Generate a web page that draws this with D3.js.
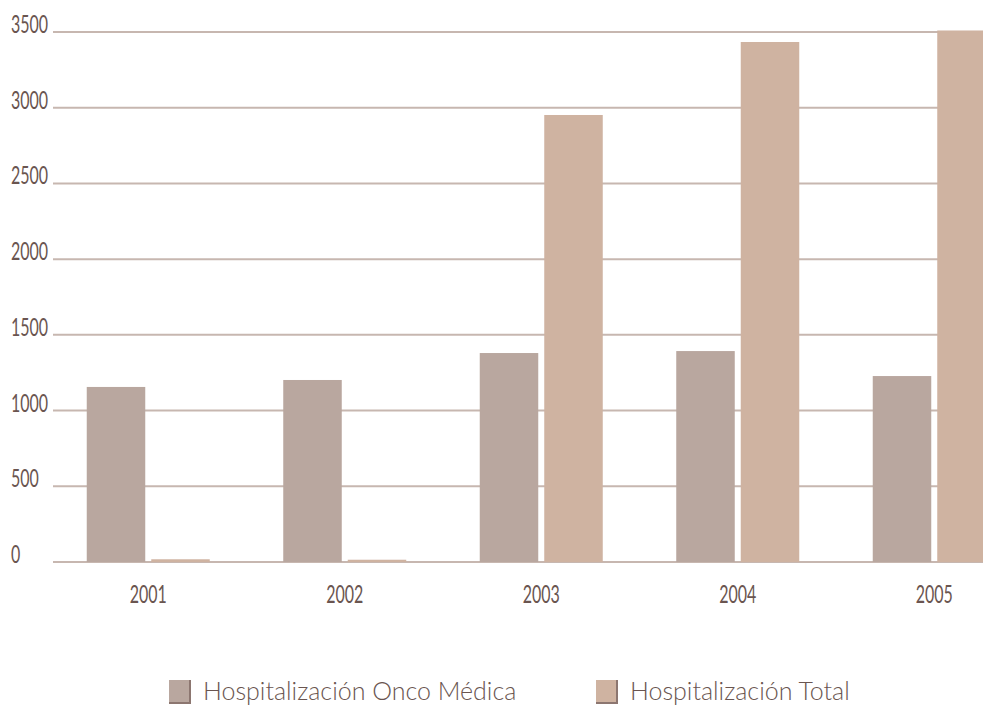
<!DOCTYPE html>
<html>
<head>
<meta charset="utf-8">
<script src="https://cdn.jsdelivr.net/npm/d3@7"></script>
<style>
  html, body { margin: 0; padding: 0; background: #ffffff; }
  svg { display: block; }
</style>
</head>
<body>
<svg id="chart" width="983" height="706"></svg>
<script>
// Hospital stays per year: oncology-medical ward vs. hospital total
const years = ["2001", "2002", "2003", "2004", "2005"];
const seriesNames = ["Hospitalización Onco Médica", "Hospitalización Total"];
const oncoMedica = [1156, 1202, 1380, 1393, 1228];
const total = [18, 15, 2952, 3434, 3510];
const yTicks = [0, 500, 1000, 1500, 2000, 2500, 3000, 3500];
const colors = ["#b9a79f", "#cfb3a1"];

const svg = d3.select("#chart");
const W = 983, H = 706;

const y = d3.scaleLinear().domain([0, 3500]).range([562, 32]);

const x0 = d3.scaleBand().domain(years).range([50, 1032.5])
  .paddingInner(0.374).paddingOuter(0.187);
const x1 = d3.scaleBand().domain(seriesNames).range([0, x0.bandwidth()])
  .paddingInner(0.093);

const textColor = "#6a5550";
const gridColor = "#c7b7b0";
const numFont = "Lato, 'Open Sans', sans-serif";
const squeeze = 0.64; // condensed look for the numeric labels

// horizontal gridlines
svg.append("g").selectAll("line").data(yTicks).join("line")
  .attr("x1", 53).attr("x2", W)
  .attr("y1", d => y(d)).attr("y2", d => y(d))
  .attr("stroke", gridColor).attr("stroke-width", 2);

// y tick labels
svg.append("g").selectAll("text").data(yTicks).join("text")
  .attr("transform", d => `translate(11,${y(d) + 1}) scale(${squeeze},1)`)
  .attr("font-family", numFont).attr("font-weight", 400)
  .attr("font-size", 25).attr("fill", textColor)
  .text(d => d);

// bars
const rows = years.map((yr, i) => ({ year: yr, values: [oncoMedica[i], total[i]] }));
const groups = svg.append("g").selectAll("g").data(rows).join("g")
  .attr("transform", d => `translate(${x0(d.year)},0)`);
groups.selectAll("rect")
  .data(d => d.values.map((v, j) => ({ name: seriesNames[j], value: v, j })))
  .join("rect")
  .attr("x", d => x1(d.name))
  .attr("width", x1.bandwidth())
  .attr("y", d => y(d.value))
  .attr("height", d => y(0) - y(d.value))
  .attr("fill", d => colors[d.j]);

// x labels
svg.append("g").selectAll("text").data(years).join("text")
  .attr("transform", d => `translate(${x0(d) + x0.bandwidth() / 2},603) scale(${squeeze},1)`)
  .attr("text-anchor", "middle")
  .attr("font-family", numFont).attr("font-weight", 400)
  .attr("font-size", 25).attr("fill", textColor)
  .text(d => d);

// legend
const legendX = [169, 596];
const legend = svg.append("g").selectAll("g").data(seriesNames).join("g")
  .attr("transform", (d, i) => `translate(${legendX[i]},680)`);
legend.append("rect").attr("width", 22).attr("height", 23)
  .attr("fill", (d, i) => colors[i]);
legend.append("path")
  .attr("d", "M21,0V23H0")
  .attr("fill", "none").attr("stroke", "#8c7670").attr("stroke-width", 2);
legend.append("text")
  .attr("x", 34).attr("y", 20)
  .attr("font-family", "Lato, 'Open Sans', sans-serif")
  .attr("font-weight", 300)
  .attr("font-size", 25).attr("fill", textColor)
  .text(d => d);
</script>
</body>
</html>
